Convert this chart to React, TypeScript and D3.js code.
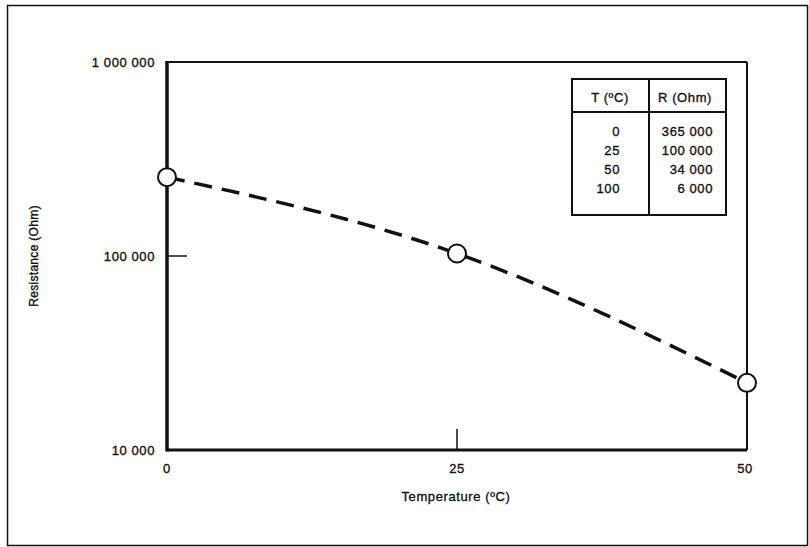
import React from "react";
import * as d3 from "d3";

const temps = [0, 25, 50];
const resistances = [255000, 103000, 22200];
const yTicks = [10000, 100000, 1000000];
const yTickLabels = ["10 000", "100 000", "1 000 000"];
const xTicks = [0, 25, 50];
const tableT = ["0", "25", "50", "100"];
const tableR = ["365 000", "100 000", "34 000", "6 000"];

const W = 809;
const H = 547;
const left = 167, right = 747, top = 62, bottom = 450;

export default function App() {
  const x = d3.scaleLinear().domain([0, 50]).range([left, right]);
  const y = d3.scaleLog().domain([10000, 1000000]).range([bottom, top]);
  const pts = temps.map((t, i) => [x(t), y(resistances[i])] as [number, number]);
  const line = d3.line().curve(d3.curveNatural)(pts) || "";
  const font = "'Liberation Sans', Arial, sans-serif";
  const tx0 = 572, tx1 = 726, ty0 = 79, ty1 = 112, ty2 = 215, tdiv = 649;
  const rowY = [131, 150, 169, 188];
  const fs = 13;
  const ls = 0.6;
  const txt = { fill: "#111", stroke: "#111", strokeWidth: 0.35 };
  return (
    <svg width={W} height={H} style={{ position: "absolute", left: 0, top: 0 }} fontFamily={font}>
      <rect x={0} y={0} width={W} height={H} fill="white" />
      <rect x={7.5} y={5.5} width={800} height={540} fill="none" stroke="#111" strokeWidth={1.5} />
      {/* plot box */}
      <line x1={left} y1={top} x2={right} y2={top} stroke="#111" strokeWidth={2} />
      <line x1={right} y1={top} x2={right} y2={bottom} stroke="#111" strokeWidth={2} />
      <line x1={left} y1={bottom} x2={right} y2={bottom} stroke="#111" strokeWidth={3} />
      <line x1={left} y1={top - 1} x2={left} y2={bottom + 1.5} stroke="#111" strokeWidth={3.5} />
      {/* inner ticks */}
      <line x1={left} y1={y(100000)} x2={left + 20} y2={y(100000)} stroke="#111" strokeWidth={1.5} />
      <line x1={x(25)} y1={bottom} x2={x(25)} y2={bottom - 21} stroke="#111" strokeWidth={1.5} />
      {yTicks.map((v, i) => (
        <text key={v} x={155} y={y(v)} dy="0.35em" textAnchor="end" fontSize={fs} letterSpacing={ls} {...txt}>
          {yTickLabels[i]}
        </text>
      ))}
      {xTicks.map((v) => (
        <text key={v} x={v === 50 ? x(v) - 2 : x(v)} y={473} textAnchor="middle" fontSize={fs} letterSpacing={ls} {...txt}>
          {v}
        </text>
      ))}
      <text x={456} y={501} textAnchor="middle" fontSize={fs} letterSpacing={ls} {...txt}>Temperature  (ºC)</text>
      <text transform={`translate(38,${(top + bottom) / 2}) rotate(-90)`} textAnchor="middle" fontSize={12} letterSpacing={0.3} {...txt}>
        Resistance (Ohm)
      </text>
      {/* curve */}
      <path d={line} fill="none" stroke="#111" strokeWidth={3.5} strokeDasharray="18 10" />
      {pts.map((p, i) => (
        <circle key={i} cx={p[0]} cy={p[1]} r={9} fill="white" stroke="#111" strokeWidth={2} />
      ))}
      {/* table */}
      <rect x={tx0} y={ty0} width={tx1 - tx0} height={ty2 - ty0} fill="white" stroke="#111" strokeWidth={2} />
      <line x1={tx0} y1={ty1} x2={tx1} y2={ty1} stroke="#111" strokeWidth={2} />
      <line x1={tdiv} y1={ty0} x2={tdiv} y2={ty2} stroke="#111" strokeWidth={2} />
      <text x={610} y={97} dy="0.35em" textAnchor="middle" fontSize={fs} letterSpacing={ls} {...txt}>T (ºC)</text>
      <text x={685} y={97} dy="0.35em" textAnchor="middle" fontSize={fs} letterSpacing={ls} {...txt}>R (Ohm)</text>
      {tableT.map((t, i) => (
        <text key={"t" + i} x={620} y={rowY[i]} dy="0.35em" textAnchor="end" fontSize={fs} letterSpacing={ls} {...txt}>{t}</text>
      ))}
      {tableR.map((r, i) => (
        <text key={"r" + i} x={713} y={rowY[i]} dy="0.35em" textAnchor="end" fontSize={fs} letterSpacing={ls} {...txt}>{r}</text>
      ))}
    </svg>
  );
}
